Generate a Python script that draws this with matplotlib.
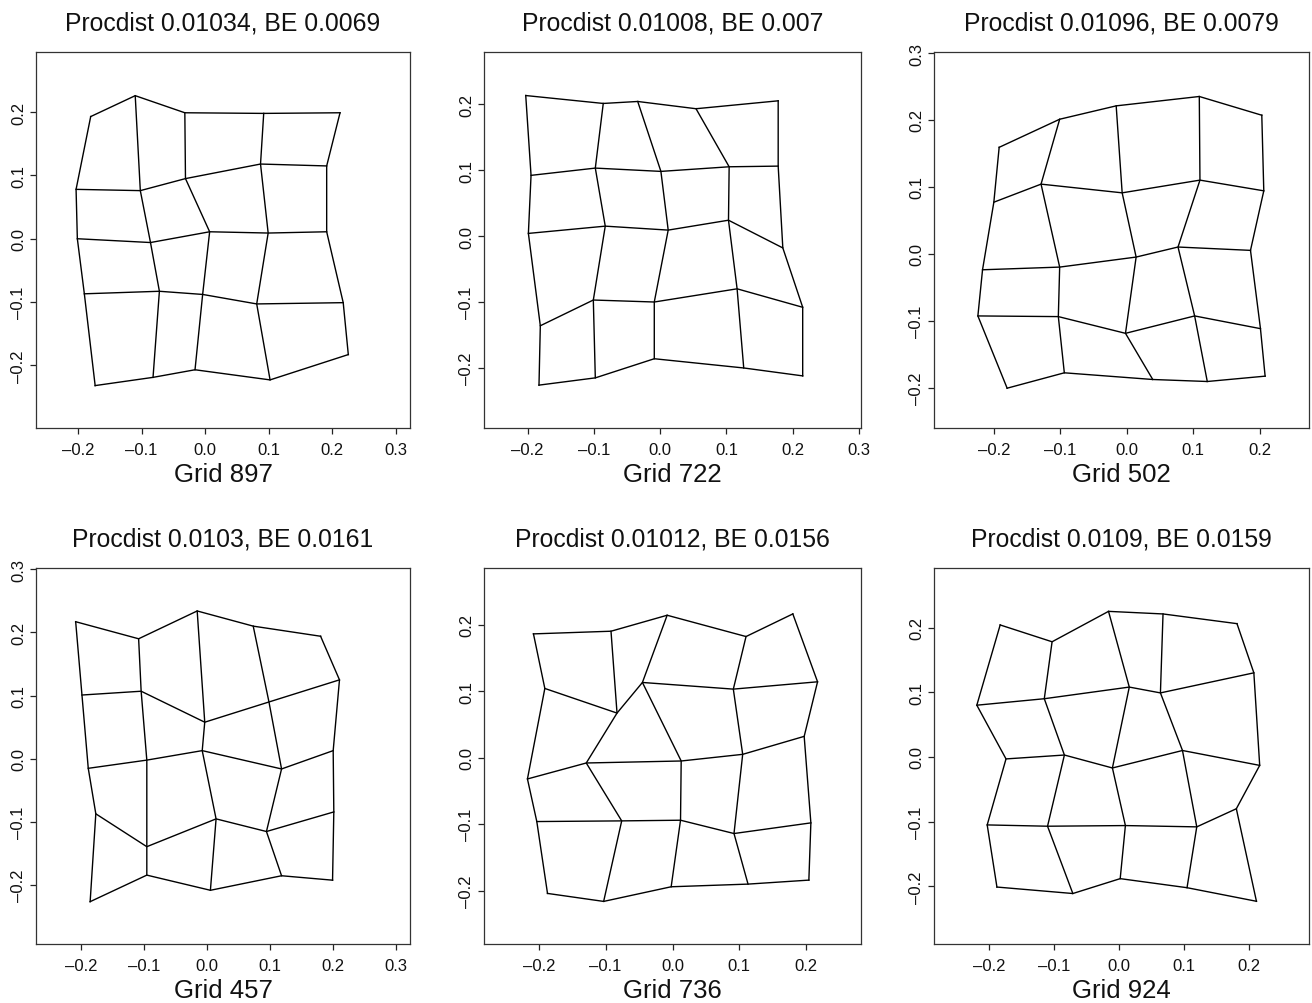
import numpy as np
import matplotlib
matplotlib.use('Agg')
import matplotlib.pyplot as plt
from matplotlib.ticker import MultipleLocator, FuncFormatter

plt.rcParams['font.family'] = ['Liberation Sans', 'DejaVu Sans']

titles = ['Procdist 0.01034, BE 0.0069', 'Procdist 0.01008, BE 0.007',
          'Procdist 0.01096, BE 0.0079', 'Procdist 0.0103, BE 0.0161',
          'Procdist 0.01012, BE 0.0156', 'Procdist 0.0109, BE 0.0159']
grid_names = ['Grid 897', 'Grid 722', 'Grid 502', 'Grid 457', 'Grid 736', 'Grid 924']

# grid vertices, 5 rows (top to bottom) x 5 columns (left to right)
x897 = [[-0.180, -0.110, -0.032, 0.092, 0.212],
        [-0.203, -0.102, -0.031, 0.087, 0.191],
        [-0.201, -0.086, 0.007, 0.099, 0.191],
        [-0.190, -0.072, -0.004, 0.081, 0.217],
        [-0.173, -0.082, -0.016, 0.102, 0.225]]
y897 = [[0.193, 0.226, 0.199, 0.198, 0.199],
        [0.078, 0.076, 0.095, 0.118, 0.115],
        [0.000, -0.006, 0.011, 0.009, 0.011],
        [-0.087, -0.083, -0.088, -0.103, -0.101],
        [-0.232, -0.219, -0.207, -0.223, -0.183]]

x722 = [[-0.203, -0.086, -0.034, 0.054, 0.178],
        [-0.195, -0.098, 0.001, 0.104, 0.178],
        [-0.199, -0.083, 0.012, 0.103, 0.185],
        [-0.181, -0.101, -0.009, 0.116, 0.215],
        [-0.183, -0.098, -0.009, 0.126, 0.215]]
y722 = [[0.213, 0.201, 0.204, 0.193, 0.205],
        [0.092, 0.103, 0.098, 0.105, 0.106],
        [0.004, 0.015, 0.009, 0.024, -0.018],
        [-0.136, -0.097, -0.100, -0.080, -0.108],
        [-0.226, -0.215, -0.186, -0.200, -0.212]]

x502 = [[-0.192, -0.101, -0.016, 0.109, 0.203],
        [-0.200, -0.129, -0.007, 0.110, 0.206],
        [-0.217, -0.101, 0.014, 0.077, 0.186],
        [-0.224, -0.103, -0.002, 0.102, 0.201],
        [-0.180, -0.094, 0.039, 0.121, 0.208]]
y502 = [[0.159, 0.201, 0.221, 0.235, 0.207],
        [0.077, 0.104, 0.091, 0.110, 0.094],
        [-0.024, -0.020, -0.005, 0.010, 0.005],
        [-0.093, -0.094, -0.119, -0.093, -0.112],
        [-0.201, -0.178, -0.188, -0.191, -0.183]]

x457 = [[-0.209, -0.109, -0.016, 0.073, 0.180],
        [-0.199, -0.105, -0.004, 0.098, 0.210],
        [-0.189, -0.096, -0.008, 0.118, 0.200],
        [-0.177, -0.096, 0.014, 0.094, 0.201],
        [-0.186, -0.096, 0.005, 0.118, 0.199]]
y457 = [[0.217, 0.190, 0.234, 0.210, 0.194],
        [0.101, 0.107, 0.058, 0.090, 0.125],
        [-0.015, -0.002, 0.013, -0.016, 0.013],
        [-0.087, -0.139, -0.095, -0.115, -0.084],
        [-0.226, -0.184, -0.208, -0.185, -0.192]]

x736 = [[-0.208, -0.092, -0.008, 0.110, 0.180],
        [-0.191, -0.083, -0.045, 0.091, 0.217],
        [-0.217, -0.129, 0.013, 0.105, 0.197],
        [-0.203, -0.076, 0.012, 0.092, 0.207],
        [-0.187, -0.103, -0.002, 0.113, 0.204]]
y736 = [[0.186, 0.190, 0.214, 0.182, 0.216],
        [0.104, 0.067, 0.113, 0.103, 0.114],
        [-0.032, -0.008, -0.005, 0.005, 0.032],
        [-0.096, -0.095, -0.094, -0.114, -0.098],
        [-0.204, -0.216, -0.194, -0.190, -0.184]]

x924 = [[-0.183, -0.103, -0.016, 0.068, 0.182],
        [-0.219, -0.115, 0.016, 0.064, 0.208],
        [-0.174, -0.084, -0.010, 0.098, 0.217],
        [-0.203, -0.110, 0.010, 0.120, 0.181],
        [-0.188, -0.071, 0.002, 0.105, 0.212]]
y924 = [[0.204, 0.178, 0.225, 0.221, 0.206],
        [0.080, 0.090, 0.108, 0.099, 0.130],
        [-0.003, 0.003, -0.017, 0.010, -0.013],
        [-0.105, -0.107, -0.106, -0.108, -0.080],
        [-0.201, -0.211, -0.188, -0.202, -0.223]]

grids_x = [x897, x722, x502, x457, x736, x924]
grids_y = [y897, y722, y502, y457, y736, y924]

# axis limits
xlims = [(-0.266, 0.322), (-0.266, 0.303), (-0.290, 0.274),
         (-0.272, 0.322), (-0.282, 0.282), (-0.285, 0.293)]
ylims = [(-0.299, 0.295), (-0.291, 0.279), (-0.2605, 0.3015),
         (-0.293, 0.302), (-0.280, 0.285), (-0.289, 0.292)]


def fmt(v, pos):
    s = '%.1f' % v
    if s == '-0.0':
        s = '0.0'
    return s.replace('-', '\u2013')


W, H = 1312, 1004
fig = plt.figure(figsize=(W / 100, H / 100), dpi=100)

cols = [(36, 410), (484, 861), (934, 1309)]
rows = [(53, 429), (569, 945)]

for k in range(6):
    (l, r), (t, b) = cols[k % 3], rows[k // 3]
    ax = fig.add_axes([l / W, 1 - b / H, (r - l) / W, (b - t) / H])
    gx = np.array(grids_x[k])
    gy = np.array(grids_y[k])
    for i in range(5):
        ax.plot(gx[i, :], gy[i, :], color='black', lw=1.0)
        ax.plot(gx[:, i], gy[:, i], color='black', lw=1.0)
    ax.set_xlim(xlims[k])
    ax.set_ylim(ylims[k])
    ax.xaxis.set_major_locator(MultipleLocator(0.1))
    ax.yaxis.set_major_locator(MultipleLocator(0.1))
    ax.xaxis.set_major_formatter(FuncFormatter(fmt))
    ax.yaxis.set_major_formatter(FuncFormatter(fmt))
    ax.tick_params(direction='out', length=4, width=0.9, labelsize=12, color='#222222',
                   labelcolor='#111111')
    ax.tick_params(axis='x', pad=6)
    ax.tick_params(axis='y', pad=3)
    for lab in ax.get_yticklabels():
        lab.set_rotation(90)
        lab.set_va('center')
    for s in ax.spines.values():
        s.set_linewidth(0.9)
        s.set_color('#333333')
    ax.set_title(titles[k], fontsize=17.8, pad=16, color='#111111')
    ax.set_xlabel(grid_names[k], fontsize=18.5, labelpad=4, color='#111111')

fig.savefig('out.png', dpi=100)
